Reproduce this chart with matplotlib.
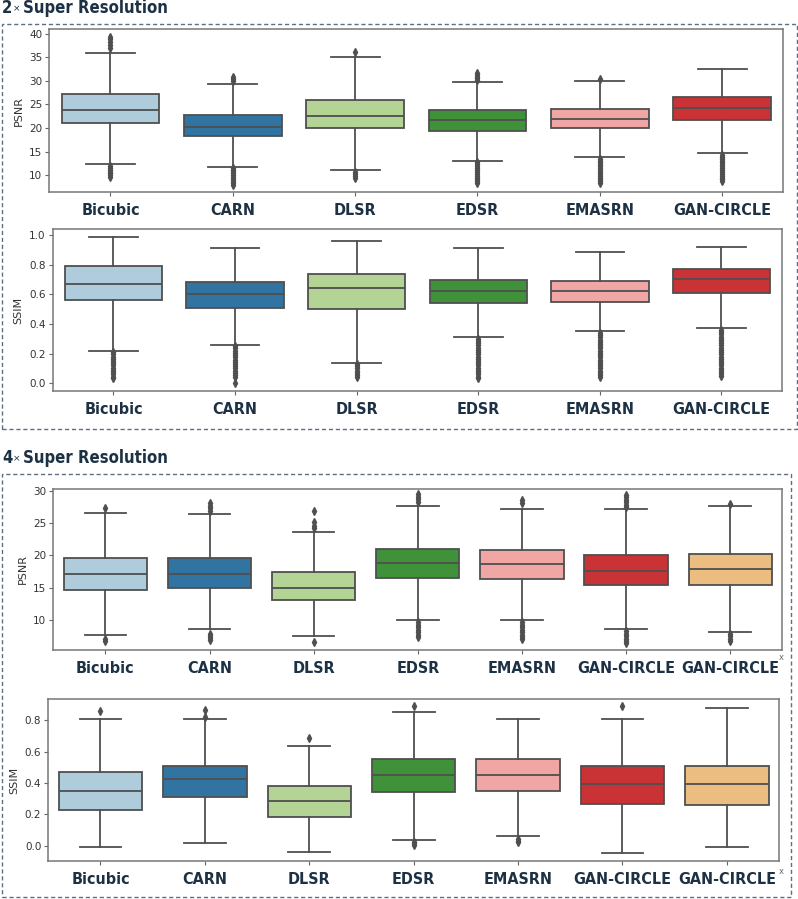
import matplotlib
matplotlib.use("Agg")
import matplotlib.pyplot as plt
from matplotlib.patches import Rectangle
import seaborn as sns

# ---------------- data ----------------
methods_2x = ["Bicubic", "CARN", "DLSR", "EDSR", "EMASRN", "GAN-CIRCLE"]
methods_4x = ["Bicubic", "CARN", "DLSR", "EDSR", "EMASRN", "GAN-CIRCLE", "GAN-CIRCLE"]

# 2x PSNR
psnr2_whislo = [12.3, 11.75, 11.1, 13.0, 13.8, 14.6]
psnr2_q1 = [21.15, 18.3, 19.9, 19.45, 19.9, 21.6]
psnr2_med = [23.9, 20.3, 22.55, 21.7, 21.9, 24.3]
psnr2_q3 = [27.1, 22.85, 26.0, 23.8, 23.95, 26.6]
psnr2_whishi = [35.9, 29.4, 35.05, 29.7, 30.0, 32.5]
psnr2_fliers = [
    [37.0, 37.5, 38.2, 38.8, 39.2, 11.9, 11.5, 11.1, 10.7, 10.4, 10.0, 9.7],
    [30.0, 30.4, 30.8, 11.6, 11.2, 10.8, 10.4, 10.0, 9.6, 9.2, 8.8, 8.4, 8.0],
    [36.0, 10.6, 10.2, 9.8, 9.4],
    [30.1, 30.5, 30.9, 31.3, 31.6, 12.7, 12.3, 11.9, 11.5, 11.1, 10.7, 10.3, 9.9, 9.5, 9.1, 8.7, 8.3],
    [30.3, 13.5, 13.1, 12.7, 12.3, 11.9, 11.5, 11.1, 10.7, 10.3, 9.9, 9.5, 9.1, 8.7, 8.3],
    [14.3, 13.9, 13.5, 13.1, 12.7, 12.3, 11.9, 11.5, 11.1, 10.7, 10.3, 9.9, 9.5, 9.1, 8.7],
]

# 2x SSIM
ssim2_whislo = [0.218, 0.258, 0.139, 0.312, 0.35, 0.371]
ssim2_q1 = [0.56, 0.51, 0.503, 0.539, 0.55, 0.609]
ssim2_med = [0.667, 0.60, 0.643, 0.62, 0.62, 0.701]
ssim2_q3 = [0.789, 0.685, 0.739, 0.699, 0.692, 0.771]
ssim2_whishi = [0.989, 0.91, 0.957, 0.91, 0.887, 0.919]
ssim2_fliers = [
    [0.21, 0.195, 0.18, 0.165, 0.15, 0.135, 0.12, 0.105, 0.09, 0.075, 0.06, 0.045, 0.035],
    [0.25, 0.235, 0.22, 0.205, 0.19, 0.175, 0.16, 0.145, 0.13, 0.115, 0.10, 0.085, 0.07, 0.055, 0.045, 0.0],
    [0.13, 0.115, 0.10, 0.085, 0.07, 0.055, 0.045],
    [0.30, 0.285, 0.27, 0.255, 0.24, 0.225, 0.21, 0.195, 0.18, 0.165, 0.15, 0.135, 0.12, 0.105,
     0.09, 0.075, 0.06, 0.045, 0.038],
    [0.34, 0.325, 0.31, 0.295, 0.28, 0.265, 0.25, 0.235, 0.22, 0.205, 0.19, 0.175, 0.16, 0.145,
     0.13, 0.115, 0.10, 0.085, 0.07, 0.055, 0.04],
    [0.36, 0.345, 0.33, 0.315, 0.30, 0.285, 0.27, 0.255, 0.24, 0.225, 0.21, 0.195, 0.18, 0.165,
     0.15, 0.135, 0.12, 0.105, 0.09, 0.075, 0.06, 0.05],
]

# 4x PSNR
psnr4_whislo = [7.7, 8.62, 7.5, 10.0, 10.0, 8.62, 8.2]
psnr4_q1 = [14.65, 15.0, 13.15, 16.55, 16.35, 15.38, 15.38]
psnr4_med = [17.07, 17.17, 14.96, 18.78, 18.62, 17.64, 17.85]
psnr4_q3 = [19.6, 19.6, 17.43, 21.04, 20.79, 20.06, 20.27]
psnr4_whishi = [26.5, 26.4, 23.57, 27.64, 27.1, 27.1, 27.64]
psnr4_fliers = [
    [27.3, 7.0, 6.7],
    [28.1, 27.7, 27.3, 26.8, 7.8, 7.5, 7.2, 6.9],
    [26.8, 25.1, 24.6, 24.2, 6.6],
    [29.5, 29.1, 28.7, 28.2, 9.7, 9.3, 8.9, 8.5, 8.1, 7.7, 7.4],
    [28.6, 28.1, 9.7, 9.3, 8.9, 8.5, 8.1, 7.7, 7.3, 7.0],
    [29.3, 29.0, 28.6, 28.2, 27.8, 27.5, 8.3, 7.9, 7.5, 7.1, 6.8, 6.5],
    [28.0, 7.9, 7.5, 7.1, 6.8],
]

# 4x SSIM
ssim4_whislo = [-0.006, 0.015, -0.038, 0.034, 0.064, -0.049, -0.008]
ssim4_q1 = [0.23, 0.311, 0.181, 0.343, 0.351, 0.268, 0.262]
ssim4_med = [0.351, 0.424, 0.285, 0.449, 0.449, 0.392, 0.392]
ssim4_q3 = [0.472, 0.509, 0.381, 0.551, 0.551, 0.509, 0.509]
ssim4_whishi = [0.81, 0.81, 0.638, 0.851, 0.809, 0.809, 0.881]
ssim4_fliers = [
    [0.86],
    [0.866, 0.82],
    [0.685],
    [0.89, 0.025, 0.015, 0.005],
    [0.04, 0.03, 0.022],
    [0.89],
    [],
]

# ---------------- style ----------------
W, H = 798, 899
fig = plt.figure(figsize=(W / 100, H / 100), dpi=100)

pal = [sns.desaturate(c, 0.75) for c in sns.color_palette("Paired", 7)]
LINE = "#4f4f4f"
NAVY = "#1d3145"
DASH = "#5d6f80"
LABEL_FONT = dict(family="DejaVu Sans", fontweight="bold", fontstretch="condensed",
                  fontsize=11.5, color=NAVY)


def ax_px(left, top, right, bottom):
    return fig.add_axes([left / W, 1 - bottom / H, (right - left) / W, (bottom - top) / H])


def draw(ax, names, whislo, q1, med, q3, whishi, fliers, ylabel, ylim, yticks, yfmt):
    stats = []
    for i, n in enumerate(names):
        stats.append(dict(label=n, whislo=whislo[i], q1=q1[i], med=med[i], q3=q3[i],
                          whishi=whishi[i], fliers=fliers[i]))
    bp = ax.bxp(stats, positions=list(range(len(names))), widths=0.8, patch_artist=True,
                boxprops=dict(edgecolor=LINE, linewidth=1.3),
                medianprops=dict(color=LINE, linewidth=1.3),
                whiskerprops=dict(color=LINE, linewidth=1.3),
                capprops=dict(color=LINE, linewidth=1.3),
                capwidths=0.4,
                flierprops=dict(marker="d", markerfacecolor=LINE, markeredgecolor=LINE,
                                markersize=4, linestyle="none"))
    for patch, c in zip(bp["boxes"], pal):
        patch.set_facecolor(c)
    ax.set_xlim(-0.5, len(names) - 0.5)
    ax.set_ylim(*ylim)
    ax.set_yticks(yticks)
    ax.set_yticklabels([yfmt.format(v) for v in yticks], fontsize=7.5, color="#333333")
    ax.set_ylabel(ylabel, fontsize=8, color="#333333", labelpad=4)
    ax.set_xticks(list(range(len(names))))
    ax.set_xticklabels(names, **LABEL_FONT)
    ax.tick_params(axis="x", length=3, pad=5, color="#666666")
    ax.tick_params(axis="y", length=3, pad=2, color="#666666")
    for s in ax.spines.values():
        s.set_color("#777777")
        s.set_linewidth(1.1)


ax1 = ax_px(49.3, 29.3, 783.3, 191.7)
draw(ax1, methods_2x, psnr2_whislo, psnr2_q1, psnr2_med, psnr2_q3, psnr2_whishi, psnr2_fliers,
     "PSNR", (6.5, 40.9), [10, 15, 20, 25, 30, 35, 40], "{:d}")

ax2 = ax_px(52.7, 229.3, 782.3, 390.7)
draw(ax2, methods_2x, ssim2_whislo, ssim2_q1, ssim2_med, ssim2_q3, ssim2_whishi, ssim2_fliers,
     "SSIM", (-0.05, 1.038), [0.0, 0.2, 0.4, 0.6, 0.8, 1.0], "{:.1f}")

ax3 = ax_px(53.3, 489, 782.3, 650)
draw(ax3, methods_4x, psnr4_whislo, psnr4_q1, psnr4_med, psnr4_q3, psnr4_whishi, psnr4_fliers,
     "PSNR", (5.36, 30.26), [10, 15, 20, 25, 30], "{:d}")

ax4 = ax_px(48.3, 699.3, 779, 861)
draw(ax4, methods_4x, ssim4_whislo, ssim4_q1, ssim4_med, ssim4_q3, ssim4_whishi, ssim4_fliers,
     "SSIM", (-0.098, 0.934), [0.0, 0.2, 0.4, 0.6, 0.8], "{:.1f}")


# ---------------- section titles and dashed frames ----------------
def fx(x):
    return x / W


def fy(y):
    return 1 - y / H


def title(y, num):
    fig.text(fx(2), fy(y), num, ha="left", va="center", fontsize=12, fontweight="bold",
             fontstretch="condensed", color=NAVY)
    fig.text(fx(16.5), fy(y + 1), "×", ha="center", va="center", fontsize=6.5, color=NAVY)
    fig.text(fx(23), fy(y), "Super Resolution", ha="left", va="center", fontsize=12,
             fontweight="bold", fontstretch="condensed", color=NAVY)


title(8, "2")
title(458, "4")

for (l, t, r, b) in [(2, 24, 796.5, 429.3), (2, 474.3, 790.7, 897.3)]:
    fig.patches.append(Rectangle((fx(l), fy(b)), fx(r - l), (b - t) / H, transform=fig.transFigure,
                                 fill=False, edgecolor=DASH, linewidth=1.0,
                                 linestyle=(0, (3, 2))))

for yy in (657, 872):
    fig.text(fx(781), fy(yy), "x", fontsize=6, color="#666666", ha="center", va="center")

fig.savefig("out.png", dpi=100)
